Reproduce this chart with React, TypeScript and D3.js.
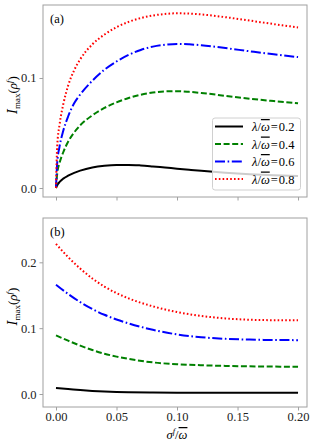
import { useEffect, useRef } from 'react';
import * as d3 from 'd3';

// sigma^f / omega values sampled in panel (a)
const xsTop = [0, 0.001, 0.003, 0.006, 0.01, 0.015, 0.02, 0.03, 0.04, 0.05, 0.06, 0.07, 0.08, 0.09, 0.1, 0.11, 0.12, 0.14, 0.16, 0.18, 0.2];
const topL02 = [0, 0.0025, 0.0055, 0.0085, 0.0112, 0.0138, 0.0158, 0.0187, 0.0203, 0.021, 0.021, 0.0205, 0.0196, 0.0186, 0.0176, 0.0166, 0.0156, 0.0139, 0.0126, 0.0116, 0.011];
const topL04 = [0, 0.013, 0.023, 0.0325, 0.042, 0.0505, 0.057, 0.066, 0.0728, 0.0778, 0.0818, 0.0848, 0.0868, 0.0878, 0.088, 0.0874, 0.0864, 0.0838, 0.0812, 0.079, 0.077];
const topL06 = [0, 0.023, 0.038, 0.052, 0.065, 0.077, 0.085, 0.0975, 0.1075, 0.115, 0.121, 0.1255, 0.1285, 0.1302, 0.131, 0.1306, 0.1298, 0.1272, 0.1243, 0.1215, 0.119];
const topL08 = [0, 0.038, 0.058, 0.076, 0.093, 0.107, 0.117, 0.1305, 0.1395, 0.1462, 0.151, 0.1545, 0.1568, 0.1582, 0.1588, 0.1586, 0.1578, 0.1553, 0.1522, 0.149, 0.146];

// panel (b)
const xsBot = [0, 0.01, 0.02, 0.03, 0.04, 0.05, 0.06, 0.08, 0.1, 0.12, 0.14, 0.16, 0.18, 0.2];
const botL02 = [0.009, 0.0075, 0.006, 0.0047, 0.0037, 0.003, 0.0026, 0.0022, 0.002, 0.002, 0.002, 0.002, 0.002, 0.002];
const botL04 = [0.089, 0.081, 0.0735, 0.0668, 0.0612, 0.0568, 0.0533, 0.048, 0.0452, 0.0437, 0.0427, 0.042, 0.0416, 0.0415];
const botL06 = [0.166, 0.152, 0.1395, 0.129, 0.1203, 0.1132, 0.1072, 0.0975, 0.0905, 0.0862, 0.0838, 0.0826, 0.082, 0.0818];
const botL08 = [0.228, 0.208, 0.1905, 0.1755, 0.1632, 0.1532, 0.1452, 0.1332, 0.1245, 0.1185, 0.1148, 0.1128, 0.1121, 0.112];

const lambdas = ['0.2', '0.4', '0.6', '0.8'];
const xTicks = [0, 0.05, 0.1, 0.15, 0.2];
const yTicksTop = [0, 0.1];
const yTicksBot = [0, 0.1, 0.2];

const styles = [
    { color: 'black', dash: null },
    { color: 'green', dash: '6,2.6' },
    { color: 'blue', dash: '10,2.6,1.6,2.6' },
    { color: 'red', dash: '1.6,2.2' },
];

const serif = '"Liberation Serif", "DejaVu Serif", serif';
const frameColor = '#a0a0a0';

// writes "ω" with a bar over it
const omegaBar = (t: any) => {
    t.append('tspan')
        .style('font-style', 'italic')
        .style('text-decoration', 'overline')
        .text('ω');
};

const App = () => {
    const svgRef = useRef<SVGSVGElement>(null);

    useEffect(() => {
        const svg = d3.select(svgRef.current);
        svg.selectAll('*').remove();

        const x = d3.scaleLinear().domain([-0.01074, 0.2074]).range([43, 307]);

        const panels = [
            { xs: xsTop, series: [topL02, topL04, topL06, topL08], yDom: [-0.00818, 0.16636], yRange: [197, 5], ticks: yTicksTop, tag: '(a)', showX: false },
            { xs: xsBot, series: [botL02, botL04, botL06, botL08], yDom: [-0.01974, 0.2673], yRange: [407, 218], ticks: yTicksBot, tag: '(b)', showX: true },
        ];

        panels.forEach(p => {
            const y = d3.scaleLinear().domain(p.yDom).range(p.yRange);
            const g = svg.append('g');

            // curves
            const line = d3.line<number>()
                .x((d, i) => x(p.xs[i]))
                .y(d => y(d))
                .curve(d3.curveMonotoneX);

            p.series.forEach((s, i) => {
                const path = g.append('path')
                    .attr('d', line(s))
                    .attr('fill', 'none')
                    .attr('stroke', styles[i].color)
                    .attr('stroke-width', 2);
                if (styles[i].dash) path.attr('stroke-dasharray', styles[i].dash);
            });

            // frame
            g.append('rect')
                .attr('x', 43).attr('y', p.yRange[1])
                .attr('width', 264).attr('height', p.yRange[0] - p.yRange[1])
                .attr('fill', 'none').attr('stroke', frameColor).attr('stroke-width', 1);

            // x ticks
            const xAxis = g.append('g')
                .attr('transform', `translate(0,${p.yRange[0]})`)
                .call(d3.axisBottom(x).tickValues(xTicks).tickSize(3.5).tickPadding(2)
                    .tickFormat(p.showX ? d3.format('.2f') : () => ''));
            xAxis.attr('font-family', serif);
            xAxis.select('.domain').remove();
            xAxis.selectAll('line').attr('stroke', frameColor);
            xAxis.selectAll('text')
                .style('font-family', serif).style('font-size', '12.5px').attr('fill', '#222');

            // y ticks
            const yAxis = g.append('g')
                .attr('transform', 'translate(43,0)')
                .call(d3.axisLeft(y).tickValues(p.ticks).tickSize(3.5).tickPadding(3).tickFormat(d3.format('.1f')));
            yAxis.attr('font-family', serif);
            yAxis.select('.domain').remove();
            yAxis.selectAll('line').attr('stroke', frameColor);
            yAxis.selectAll('text')
                .style('font-family', serif).style('font-size', '12.5px').attr('fill', '#222');

            // panel tag
            g.append('text')
                .attr('x', 50).attr('y', p.yRange[1] + 18)
                .style('font-family', serif).style('font-size', '12.5px')
                .text(p.tag);

            // y label
            const cy = (p.yRange[0] + p.yRange[1]) / 2 - 6;
            const yl = g.append('text')
                .attr('transform', `translate(17,${cy}) rotate(-90)`)
                .attr('text-anchor', 'middle')
                .style('font-family', serif).style('font-size', '13px');
            yl.append('tspan').style('font-style', 'italic').style('font-family', '"DejaVu Serif", serif').style('font-size', '12px').text('I');
            yl.append('tspan').attr('dy', 3).style('font-size', '9px').text('max');
            yl.append('tspan').attr('dy', -3).text('(');
            yl.append('tspan').style('font-style', 'italic').text('ρ');
            yl.append('tspan').attr('dy', -5).style('font-size', '8.5px').style('font-style', 'italic').text('f');
            yl.append('tspan').attr('dy', 5).text(')');
        });

        // x label
        const xl = svg.append('text')
            .attr('x', 177).attr('y', 439)
            .attr('text-anchor', 'middle')
            .style('font-family', serif).style('font-size', '12.5px');
        xl.append('tspan').style('font-style', 'italic').text('σ');
        xl.append('tspan').attr('dy', -5).style('font-size', '8.5px').style('font-style', 'italic').text('f');
        xl.append('tspan').attr('dy', 5).text('/');
        omegaBar(xl);

        // legend
        const legend = svg.append('g');
        legend.append('rect')
            .attr('x', 212.5).attr('y', 118)
            .attr('width', 88).attr('height', 72)
            .attr('rx', 2.5)
            .attr('fill', 'white').attr('fill-opacity', 0.8)
            .attr('stroke', '#d0d0d0').attr('stroke-width', 1);

        const entry = legend.selectAll('.entry')
            .data(lambdas)
            .enter().append('g')
            .attr('class', 'entry')
            .attr('transform', (d, i) => `translate(0,${126.5 + i * 17.5})`);

        entry.append('line')
            .attr('x1', 215).attr('x2', 243)
            .attr('stroke', (d, i) => styles[i].color)
            .attr('stroke-width', 2)
            .attr('stroke-dasharray', (d, i) => styles[i].dash ?? null);

        entry.each(function (d) {
            const et = d3.select(this).append('text')
                .attr('x', 252).attr('y', 4.5)
                .style('font-family', serif).style('font-size', '12.5px');
            et.append('tspan').style('font-style', 'italic').text('λ');
            et.append('tspan').text('/');
            omegaBar(et);
            et.append('tspan').attr('dx', 1).text('=');
            et.append('tspan').attr('dx', 1).text(d as string);
        });
    }, []);

    return (
        <svg ref={svgRef} width={312} height={444} style={{ position: 'absolute', left: 0, top: 0, background: 'white' }}></svg>
    );
};

export default App;
